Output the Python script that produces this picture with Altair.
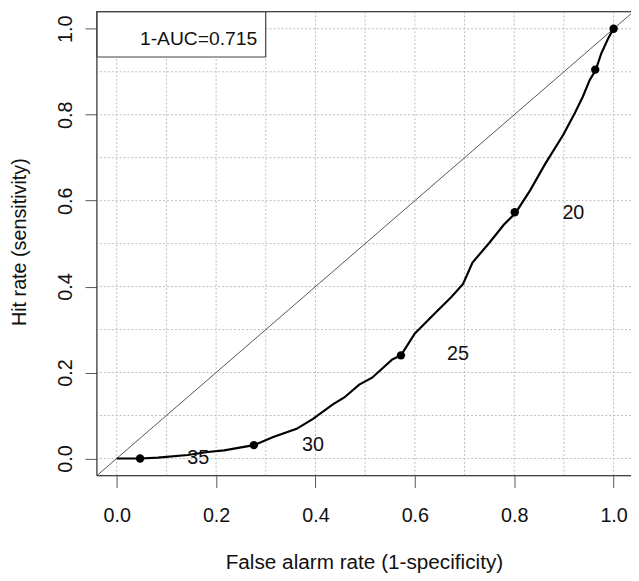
import altair as alt
import pandas as pd

# ROC curve
fpr = [0.0, 0.047, 0.083, 0.143, 0.183, 0.216, 0.276, 0.315, 0.362, 0.395, 0.435, 0.458,
       0.488, 0.514, 0.554, 0.572, 0.600, 0.643, 0.673, 0.697, 0.716, 0.750, 0.779, 0.803,
       0.832, 0.862, 0.899, 0.922, 0.938, 0.952, 0.964, 0.975, 0.990, 1.0]
tpr = [0.0, 0.0, 0.002, 0.008, 0.015, 0.019, 0.031, 0.050, 0.069, 0.092, 0.126, 0.142,
       0.172, 0.188, 0.230, 0.240, 0.291, 0.341, 0.375, 0.406, 0.456, 0.502, 0.544, 0.572,
       0.624, 0.685, 0.754, 0.804, 0.842, 0.881, 0.904, 0.942, 0.980, 1.0]

# threshold points
pt_x = [0.047, 0.276, 0.572, 0.801, 0.963, 1.0]
pt_y = [0.0, 0.031, 0.240, 0.573, 0.905, 1.0]

# threshold labels
lab_text = ["35", "30", "25", "20"]
lab_x = [0.164, 0.395, 0.687, 0.919]
lab_y = [0.0, 0.032, 0.242, 0.571]

auc_text = "1-AUC=0.715"

grid_vals = [0.0, 0.1, 0.2, 0.3, 0.4, 0.5, 0.6, 0.7, 0.8, 0.9, 1.0]
tick_vals = [0.0, 0.2, 0.4, 0.6, 0.8, 1.0]
diag = [-0.04, 1.04]

W, H = 541, 470
FONT = "Liberation Sans"

xs = alt.Scale(domain=[-0.04, 1.035], nice=False, zero=False)
ys = alt.Scale(domain=[-0.04, 1.04], nice=False, zero=False)

xaxis = alt.Axis(values=tick_vals, format=".1f", grid=False, domain=False,
                 tickSize=12, tickColor="#555555", tickWidth=1,
                 labelFontSize=20, labelFont=FONT, labelColor="#111111",
                 labelPadding=34, labelBaseline="alphabetic", labelFlush=False,
                 title="False alarm rate (1-specificity)", titleFont=FONT,
                 titleFontSize=21, titleFontWeight="normal", titleColor="#111111",
                 titleY=94, titleBaseline="alphabetic")
yaxis = alt.Axis(values=tick_vals, format=".1f", grid=False, domain=False,
                 tickSize=12, tickColor="#555555", tickWidth=1,
                 labelFontSize=20, labelFont=FONT, labelColor="#111111",
                 labelAngle=270, labelAlign="center", labelBaseline="alphabetic",
                 labelPadding=14, labelFlush=False,
                 title="Hit rate (sensitivity)", titleFont=FONT,
                 titleFontSize=20, titleFontWeight="normal", titleColor="#111111",
                 titleAngle=270, titleAlign="center", titleBaseline="alphabetic",
                 titleX=-72, titleY=233)

grid_df = pd.DataFrame({"g": grid_vals})
curve_df = pd.DataFrame({"fpr": fpr, "tpr": tpr, "i": list(range(len(fpr)))})
pt_df = pd.DataFrame({"x": pt_x, "y": pt_y})
lab_df = pd.DataFrame({"x": lab_x, "y": lab_y, "t": lab_text})
diag_df = pd.DataFrame({"d": diag})
one_df = pd.DataFrame({"t": [auc_text]})

gstyle = dict(color="#bdbdbd", strokeDash=[2, 2], strokeWidth=1)

vgrid = alt.Chart(grid_df).mark_rule(**gstyle).encode(
    x=alt.X("g:Q", scale=xs, axis=xaxis))
hgrid = alt.Chart(grid_df).mark_rule(**gstyle).encode(
    y=alt.Y("g:Q", scale=ys, axis=yaxis))

diag_line = alt.Chart(diag_df).mark_line(color="#555555", strokeWidth=1, clip=True).encode(
    x=alt.X("d:Q", scale=xs, axis=xaxis),
    y=alt.Y("d:Q", scale=ys, axis=yaxis))

curve = alt.Chart(curve_df).mark_line(color="black", strokeWidth=2.2).encode(
    x=alt.X("fpr:Q", scale=xs, axis=xaxis),
    y=alt.Y("tpr:Q", scale=ys, axis=yaxis),
    order="i:Q")

pts = alt.Chart(pt_df).mark_circle(color="black", opacity=1, size=72).encode(
    x=alt.X("x:Q", scale=xs, axis=xaxis),
    y=alt.Y("y:Q", scale=ys, axis=yaxis))

labs = alt.Chart(lab_df).mark_text(fontSize=20, font=FONT, color="#111111",
                                   baseline="middle", align="center").encode(
    x=alt.X("x:Q", scale=xs, axis=xaxis),
    y=alt.Y("y:Q", scale=ys, axis=yaxis),
    text="t:N")

legend_box = alt.Chart(one_df).mark_rect(fill="white", stroke="#444444", strokeWidth=1.2).encode(
    x=alt.value(0), x2=alt.value(171), y=alt.value(0), y2=alt.value(46))
legend_text = alt.Chart(one_df).mark_text(fontSize=19.5, font=FONT, color="#111111",
                                          baseline="middle", align="center").encode(
    x=alt.value(103), y=alt.value(28), text="t:N")

fstyle = dict(color="#444444", strokeWidth=1.3)
frame_left = alt.Chart(one_df).mark_rule(**fstyle).encode(
    x=alt.value(0), y=alt.value(0), y2=alt.value(H))
frame_top = alt.Chart(one_df).mark_rule(**fstyle).encode(
    x=alt.value(0), x2=alt.value(W), y=alt.value(0))
frame_bottom = alt.Chart(one_df).mark_rule(**fstyle).encode(
    x=alt.value(0), x2=alt.value(W), y=alt.value(H))

chart = alt.layer(
    vgrid, hgrid, diag_line, curve, pts, labs,
    legend_box, legend_text, frame_left, frame_top, frame_bottom
).properties(
    width=W, height=H,
    autosize=alt.AutoSizeParams(type="none"),
    padding={"left": 90, "top": 0, "right": 0, "bottom": 100},
    background="white"
).configure_view(stroke=None).configure(font=FONT)

chart.save("out.html", embed_options={"renderer": "svg", "actions": False})
